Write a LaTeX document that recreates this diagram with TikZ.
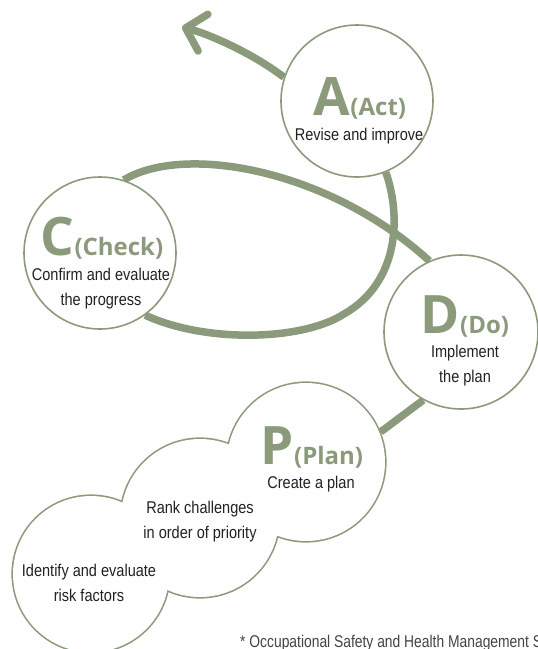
\documentclass[tikz,border=0pt]{standalone}
\usepackage{fontspec}
\setmainfont{Liberation Sans}[FakeStretch=0.855]
\newfontfamily\notefont{Liberation Sans}[FakeStretch=0.815]
\newfontfamily\headfont{Open Sans}
\usetikzlibrary{arrows.meta}
\pgfdeclarelayer{background}
\pgfsetlayers{background,main}
\definecolor{sage}{HTML}{8B9A7B}
\definecolor{ink}{HTML}{222222}
\tikzset{
  bubble/.style={circle, fill=white, draw=sage, line width=1.6pt, inner sep=0pt},
  lobe/.style={circle, draw=sage, line width=3.2pt, inner sep=0pt},
  conn/.style={draw=sage, line width=7.5pt},
  head/.style={anchor=base, text=sage, font=\headfont\bfseries, inner sep=0pt},
  body/.style={anchor=base, text=ink, align=center, font=\fontsize{17}{25}\selectfont, inner sep=0pt},
  note/.style={anchor=base west, text=ink!85, font=\notefont\fontsize{17}{20}\selectfont, inner sep=0pt}
}
\newcommand{\bigL}[2]{{\fontsize{53}{53}\selectfont #1}{\fontsize{24}{24}\selectfont (#2)}}
\begin{document}
\begin{tikzpicture}[x=1pt,y=-1pt]
\useasboundingbox (0,0) rectangle (538,649);
\clip (0,0) rectangle (538,649);

% cloud lobes (outlines, doubled width so the fill leaves the outer half)
\node[lobe, minimum size=156pt] (Ll) at (91,574) {};
\node[lobe, minimum size=158pt] (Ml) at (200,518) {};
\node[lobe, minimum size=158pt] (Pl) at (306,462) {};
\fill[white] (Ll.center) circle[radius=78pt];
\fill[white] (Ml.center) circle[radius=79pt];
\fill[white] (Pl.center) circle[radius=79pt];

% bubbles
\node[bubble, minimum size=152pt] (A) at (357,101) {};
\node[bubble, minimum size=152pt] (C) at (100,253) {};
\node[bubble, minimum size=154pt] (D) at (461,332) {};
\coordinate (tip) at (182,27);
\coordinate (loopmid) at (344,314);

% connectors (behind)
\begin{pgfonlayer}{background}
\draw[conn, -{Straight Barb[length=18pt, width=38pt, round]}]
  (A.162) .. controls (255,55) and (212,35) .. (tip);
\draw[conn] (C.72) .. controls (185,143) and (330,170) .. (D.114);
\draw[conn] (A.-68) .. controls (401,215) and (400,282) .. (loopmid)
  .. controls (302,341) and (205,343) .. (C.-54);
\draw[conn] (D.241) -- (Pl.22);
\end{pgfonlayer}

% texts
\node[head] (tA) at (360,115) {\bigL{A}{Act}};
\node[body] (bA) at (359,140) {Revise and improve};
\node[head] (tC) at (102,255) {\bigL{C}{Check}};
\node[body] (bC) at (101,305) {Confirm and evaluate\\the progress};
\node[head] (tD) at (465,333) {\bigL{D}{Do}};
\node[body] (bD) at (465,382) {Implement\\the plan};
\node[head] (tP) at (312,464) {\bigL{P}{Plan}};
\node[body] (bP) at (311,488) {Create a plan};
\node[body] (bM) at (200,538) {Rank challenges\\in order of priority};
\node[body] (bL) at (89,601) {Identify and evaluate\\risk factors};
\node[note] (fn) at (240,647) {* Occupational Safety and Health Management System};
\end{tikzpicture}
\end{document}
